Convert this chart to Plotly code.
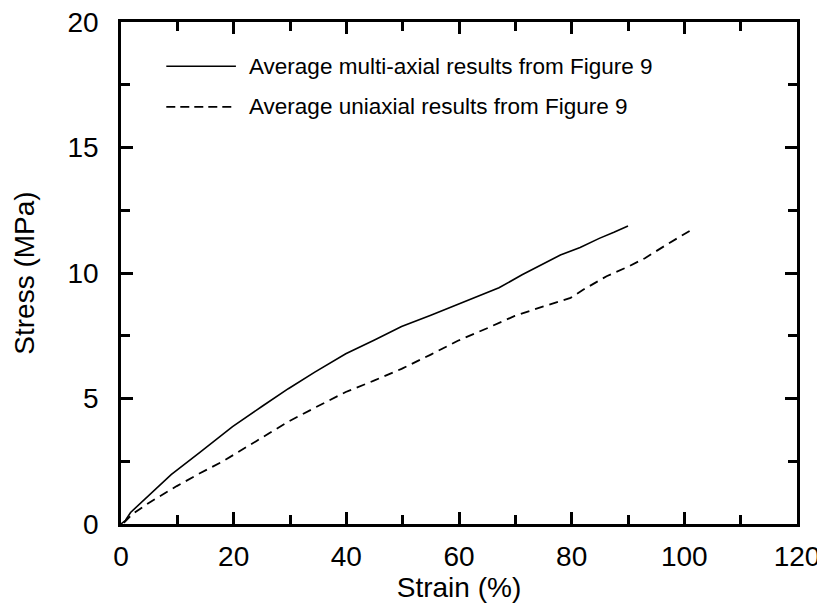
import plotly.graph_objects as go

# Data
strain_multi = [0, 0.8, 1.7, 4.0, 8.9, 14.0, 19.8, 25.0, 29.7, 34.4, 39.9, 45.0, 49.8, 55.0, 59.8, 64.0, 67.1, 71.2, 74.5, 78.0, 81.5, 84.9, 87.5, 90.0]
stress_multi = [0, 0.15, 0.46, 0.95, 1.97, 2.85, 3.88, 4.68, 5.39, 6.05, 6.78, 7.33, 7.87, 8.32, 8.75, 9.15, 9.41, 9.93, 10.30, 10.72, 11.02, 11.38, 11.62, 11.87]

strain_uni = [0.5, 2.0, 5.0, 9.9, 14.0, 18.1, 24.0, 29.7, 35.0, 39.9, 45.0, 49.8, 55.0, 59.8, 65.0, 69.9, 75.0, 79.8, 82.1, 86.2, 90.0, 93.0, 97.0, 101.2]
stress_uni = [0.05, 0.39, 0.85, 1.51, 2.02, 2.50, 3.30, 4.08, 4.70, 5.26, 5.72, 6.18, 6.75, 7.30, 7.80, 8.29, 8.67, 9.01, 9.34, 9.87, 10.25, 10.59, 11.15, 11.71]

series_names = ["Average multi-axial results from Figure 9",
                "Average uniaxial results from Figure 9"]

x_ticks = [0, 20, 40, 60, 80, 100, 120]
y_ticks = [0, 5, 10, 15, 20]

FONT = "Liberation Sans, Arial, Helvetica, sans-serif"

fig = go.Figure()
fig.add_trace(go.Scatter(x=strain_multi, y=stress_multi, mode="lines",
                         line=dict(color="black", width=1.6),
                         name=series_names[0], showlegend=False))
fig.add_trace(go.Scatter(x=strain_uni, y=stress_uni, mode="lines",
                         line=dict(color="black", width=1.8, dash="9px,6px"),
                         name=series_names[1], showlegend=False))

# Manual legend (sample lines + text)
legend_rows = [(0.912, "solid"), (0.831, "9px,5px")]
for (yy, dash), name in zip(legend_rows, series_names):
    fig.add_shape(type="line", xref="paper", yref="paper",
                  x0=0.067, x1=0.170, y0=yy, y1=yy,
                  line=dict(color="black", width=1.6, dash=dash))
    fig.add_annotation(xref="paper", yref="paper", x=0.186, y=yy,
                       text=name, showarrow=False, xanchor="left", yanchor="middle",
                       font=dict(family=FONT, size=22.5, color="black"))

axis_common = dict(
    automargin=False, ticklabeloverflow="allow",
    showgrid=False, zeroline=False, showline=True, linecolor="black", linewidth=2.5,
    mirror="ticks", ticks="inside", tickcolor="black", tickwidth=2.5, ticklen=12,
    tickfont=dict(family=FONT, size=28, color="black"),
)

fig.update_xaxes(**axis_common, range=[0, 120], tickvals=x_ticks, ticklabelstandoff=6,
                 minor=dict(dtick=10, tick0=0, ticks="inside", ticklen=9, tickwidth=2.5, tickcolor="black"),
                 title=dict(text="Strain (%)", font=dict(family=FONT, size=28, color="black"), standoff=11))
fig.update_yaxes(**axis_common, range=[0, 20], tickvals=y_ticks, ticklabelstandoff=14,
                 minor=dict(dtick=2.5, tick0=0, ticks="inside", ticklen=9, tickwidth=2.5, tickcolor="black"),
                 title=dict(text="Stress (MPa)", font=dict(family=FONT, size=28, color="black"), standoff=25))

# The page body adds an 8px offset, so the figure is sized to fit the window
fig.update_layout(
    width=817, height=595,
    margin=dict(l=113, r=28, t=14, b=79),
    plot_bgcolor="white", paper_bgcolor="white",
    font=dict(family=FONT, color="black"),
)

fig.write_html("out.html")
